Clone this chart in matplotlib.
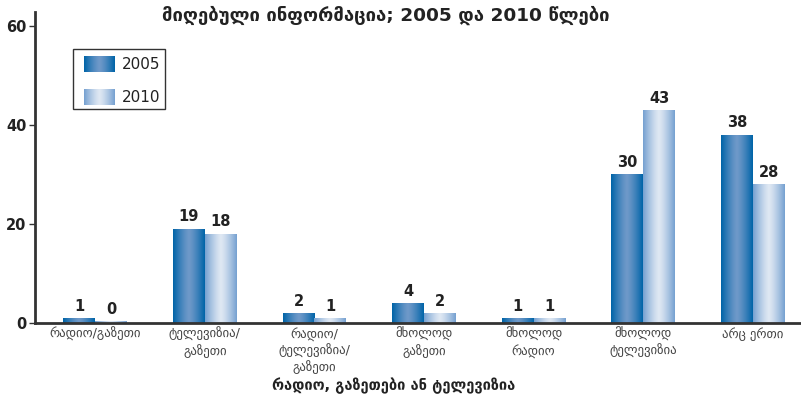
import matplotlib
matplotlib.use('Agg')
import matplotlib.pyplot as plt
from matplotlib.patches import Rectangle
from matplotlib.colors import to_rgb
import numpy as np

plt.rcParams['font.family'] = ['DejaVu Sans']

categories = ['რადიო/გაზეთი', 'ტელევიზია/\nგაზეთი', 'რადიო/\nტელევიზია/\nგაზეთი',
              'მხოლოდ\nგაზეთი', 'მხოლოდ\nრადიო', 'მხოლოდ\nტელევიზია', 'არც ერთი']
values_2005 = [1, 19, 2, 4, 1, 30, 38]
values_2010 = [0.4, 18, 1, 2, 1, 43, 28]
labels_2005 = ['1', '19', '2', '4', '1', '30', '38']
labels_2010 = ['0', '18', '1', '2', '1', '43', '28']
series = ['2005', '2010']
yticks = [0, 20, 40, 60]

title = 'მიღებული ინფორმაცია; 2005 და 2010 წლები'
xlabel = 'რადიო, გაზეთები ან ტელევიზია'

DARK = '#222222'
AXIS = '#333333'
GRAD_2005 = ('#0064a8', '#6f99c9')
GRAD_2010 = ('#76a1d1', '#dfe8f3')


def gradient(edge, center, n=64):
    t = np.linspace(0, 1, n)
    w = 1 - np.abs(2 * t - 1) ** 1.3
    e = np.array(to_rgb(edge))
    c = np.array(to_rgb(center))
    row = e[None, :] * (1 - w[:, None]) + c[None, :] * w[:, None]
    return row[None, :, :]


fig = plt.figure(figsize=(8.01, 3.98), dpi=100)
ax = fig.add_axes([35 / 801, 75 / 398, 765 / 801, 311 / 398])

x = np.arange(len(categories))
w = 0.29
bars1 = ax.bar(x - w / 2, values_2005, w, color='none', edgecolor='none')
bars2 = ax.bar(x + w / 2, values_2010, w, color='none', edgecolor='none')

for bars, grad in [(bars1, GRAD_2005), (bars2, GRAD_2010)]:
    img = gradient(*grad)
    for b in bars:
        x0, y0 = b.get_x(), b.get_y()
        im = ax.imshow(img, extent=[x0, x0 + b.get_width(), y0, y0 + b.get_height()],
                       aspect='auto', zorder=2, interpolation='bilinear')
        im.set_clip_path(b)

for bars, labs in [(bars1, labels_2005), (bars2, labels_2010)]:
    for b, lab in zip(bars, labs):
        ax.text(b.get_x() + b.get_width() / 2, b.get_height() + 0.9, lab,
                ha='center', va='bottom', fontsize=10.5, fontweight='bold', color=DARK)

for s in ['top', 'right']:
    ax.spines[s].set_visible(False)
for s in ['left', 'bottom']:
    ax.spines[s].set_color(AXIS)
    ax.spines[s].set_linewidth(2)

ax.set_yticks(yticks)
ax.set_yticklabels([str(v) for v in yticks], fontsize=10.5, fontweight='bold', color=DARK)
ax.tick_params(axis='y', length=4, width=1, color=AXIS, pad=2)
ax.set_xticks(x)
ax.set_xticklabels(categories, fontsize=9.2, color='#444444', linespacing=1.25)
ax.tick_params(axis='x', length=0, pad=3)

ax.set_xlabel(xlabel, fontsize=10.5, fontweight='bold', color=DARK)
ax.xaxis.set_label_coords(0.469, -0.203)
ax.xaxis.label.set_va('center')
fig.text(0.482, 0.962, title, ha='center', va='center', fontsize=13.3, fontweight='bold', color=DARK)

# legend
lx0, ly0 = -0.2, 43.2
ax.add_patch(Rectangle((lx0, ly0), 0.84, 12.2, facecolor='white', edgecolor=AXIS,
                       linewidth=1, zorder=3))
for i, (name, grad) in enumerate(zip(series, [GRAD_2005, GRAD_2010])):
    yy = ly0 + 9.0 - i * 6.6
    ax.imshow(gradient(*grad), extent=[lx0 + 0.10, lx0 + 0.38, yy - 1.6, yy + 1.6],
              aspect='auto', zorder=4, interpolation='bilinear')
    ax.text(lx0 + 0.44, yy, name, ha='left', va='center', fontsize=11, color=DARK, zorder=4)

ax.set_xlim(-0.55, 6.43)
ax.set_ylim(0, 62.8)

fig.savefig('out.png', dpi=100, facecolor='white')
